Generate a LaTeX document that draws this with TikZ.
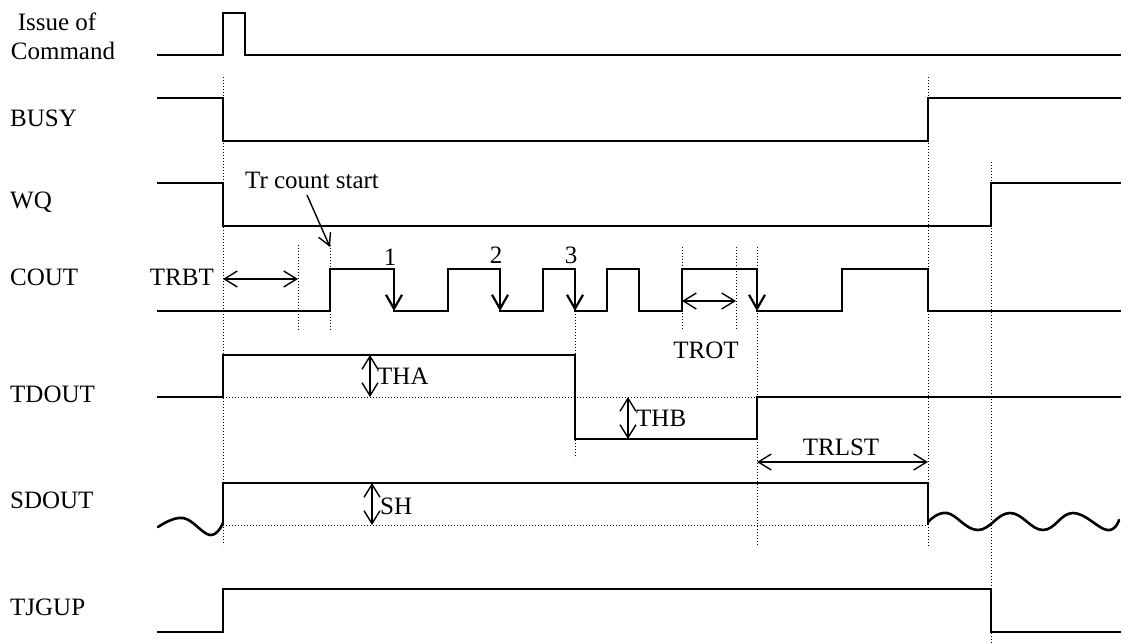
\documentclass[tikz,border=0pt]{standalone}
\usepackage{fontspec}
\setmainfont{Liberation Serif}
\usetikzlibrary{arrows.meta}
\begin{document}
\begin{tikzpicture}[x=1pt,y=-1pt,
  sig/.style={line width=2.6pt, line cap=rect, line join=miter},
  wave/.style={line width=2.6pt, line cap=round},
  fall/.style={line width=2.6pt, -{Straight Barb[length=14pt,width=16pt,line width=2.2pt]}},
  guide/.style={line width=1pt, dash pattern=on 1pt off 2pt},
  dim/.style={line width=1.4pt, {Straight Barb[length=13pt,width=16pt]}-{Straight Barb[length=13pt,width=16pt]}},
  ptr/.style={line width=1.4pt, -{Straight Barb[length=12pt,width=13pt]}},
  lbl/.style={font=\fontsize{25}{28}\selectfont, inner sep=0pt}]
\useasboundingbox (0,0) rectangle (1133,644);

% left labels
\node[lbl] (l0a) at (57,22) {Issue of};
\node[lbl] (l0b) at (63,51) {Command};
\node[lbl, anchor=west] (l1) at (10,118) {BUSY};
\node[lbl, anchor=west] (l2) at (10,202) {WQ};
\node[lbl, anchor=west] (l3) at (10,277) {COUT};
\node[lbl, anchor=west] (l4) at (10,394) {TDOUT};
\node[lbl, anchor=west] (l5) at (10,500) {SDOUT};
\node[lbl, anchor=west] (l6) at (10,607) {TJGUP};

% guides
\draw[guide] (223,77) -- (223,545);
\draw[guide] (298,245) -- (298,330);
\draw[guide] (330,245) -- (330,330);
\draw[guide] (575,311) -- (575,458);
\draw[guide] (682,247) -- (682,330);
\draw[guide] (736,247) -- (736,330);
\draw[guide] (757,247) -- (757,545);
\draw[guide] (928,77) -- (928,547);
\draw[guide] (991,162) -- (991,644);
\draw[guide] (223,397) -- (757,397);
\draw[guide] (223,525) -- (928,525);

% Issue of Command
\draw[sig] (158,55) -- (223,55) -- (223,13) -- (245,13) -- (245,55) -- (1120,55);
% BUSY
\draw[sig] (158,98) -- (223,98) -- (223,141) -- (928,141) -- (928,98) -- (1120,98);
% WQ
\draw[sig] (158,183) -- (223,183) -- (223,226) -- (991,226) -- (991,183) -- (1120,183);
% COUT
\draw[sig] (158,311) -- (330,311) -- (330,269) -- (394,269);
\draw[fall] (394,269) -- (394,311);
\draw[sig] (394,311) -- (448,311) -- (448,269) -- (500,269);
\draw[fall] (500,269) -- (500,311);
\draw[sig] (500,311) -- (543,311) -- (543,269) -- (575,269);
\draw[fall] (575,269) -- (575,311);
\draw[sig] (575,311) -- (607,311) -- (607,269) -- (639,269) -- (639,311) -- (682,311) -- (682,269) -- (757,269);
\draw[fall] (757,269) -- (757,311);
\draw[sig] (757,311) -- (842,311) -- (842,269) -- (928,269) -- (928,311) -- (1120,311);
% TDOUT
\draw[sig] (158,397) -- (223,397) -- (223,355) -- (575,355) -- (575,439) -- (757,439) -- (757,397) -- (1120,397);
% SDOUT
\draw[wave] plot[smooth, tension=0.7] coordinates {(158,527) (183,518) (210,535) (223,523)};
\draw[sig] (223,525) -- (223,483) -- (928,483) -- (928,524);
\draw[wave] plot[smooth, tension=0.7] coordinates {(928,522) (947,513) (978,530) (1010,513) (1043,530) (1073,513) (1107,530) (1119,520)};
% TJGUP
\draw[sig] (158,632) -- (223,632) -- (223,589) -- (991,589) -- (991,632) -- (1120,632);

% dimensions
\draw[dim] (223,279) -- (298,279);
\node[lbl, anchor=east] (trbt) at (214,277) {TRBT};
\draw[dim] (682,301) -- (736,301);
\node[lbl] (trot) at (706,350) {TROT};
\draw[dim] (370,355) -- (370,397);
\node[lbl, anchor=west] (tha) at (377,376) {THA};
\draw[dim] (628,397) -- (628,439);
\node[lbl, anchor=west] (thb) at (636,418) {THB};
\draw[dim] (372,483) -- (372,525);
\node[lbl, anchor=west] (sh) at (380,506) {SH};
\draw[dim] (757,462) -- (928,462);
\node[lbl] (trlst) at (841,447) {TRLST};

\node[lbl] (tcs) at (312,180) {Tr count start};
\coordinate (tcsend) at (330,247);
\draw[ptr] (307,195) -- (tcsend);

\node[lbl] (n1) at (390,257) {1};
\node[lbl] (n2) at (496,255) {2};
\node[lbl] (n3) at (571,255) {3};
\end{tikzpicture}
\end{document}
